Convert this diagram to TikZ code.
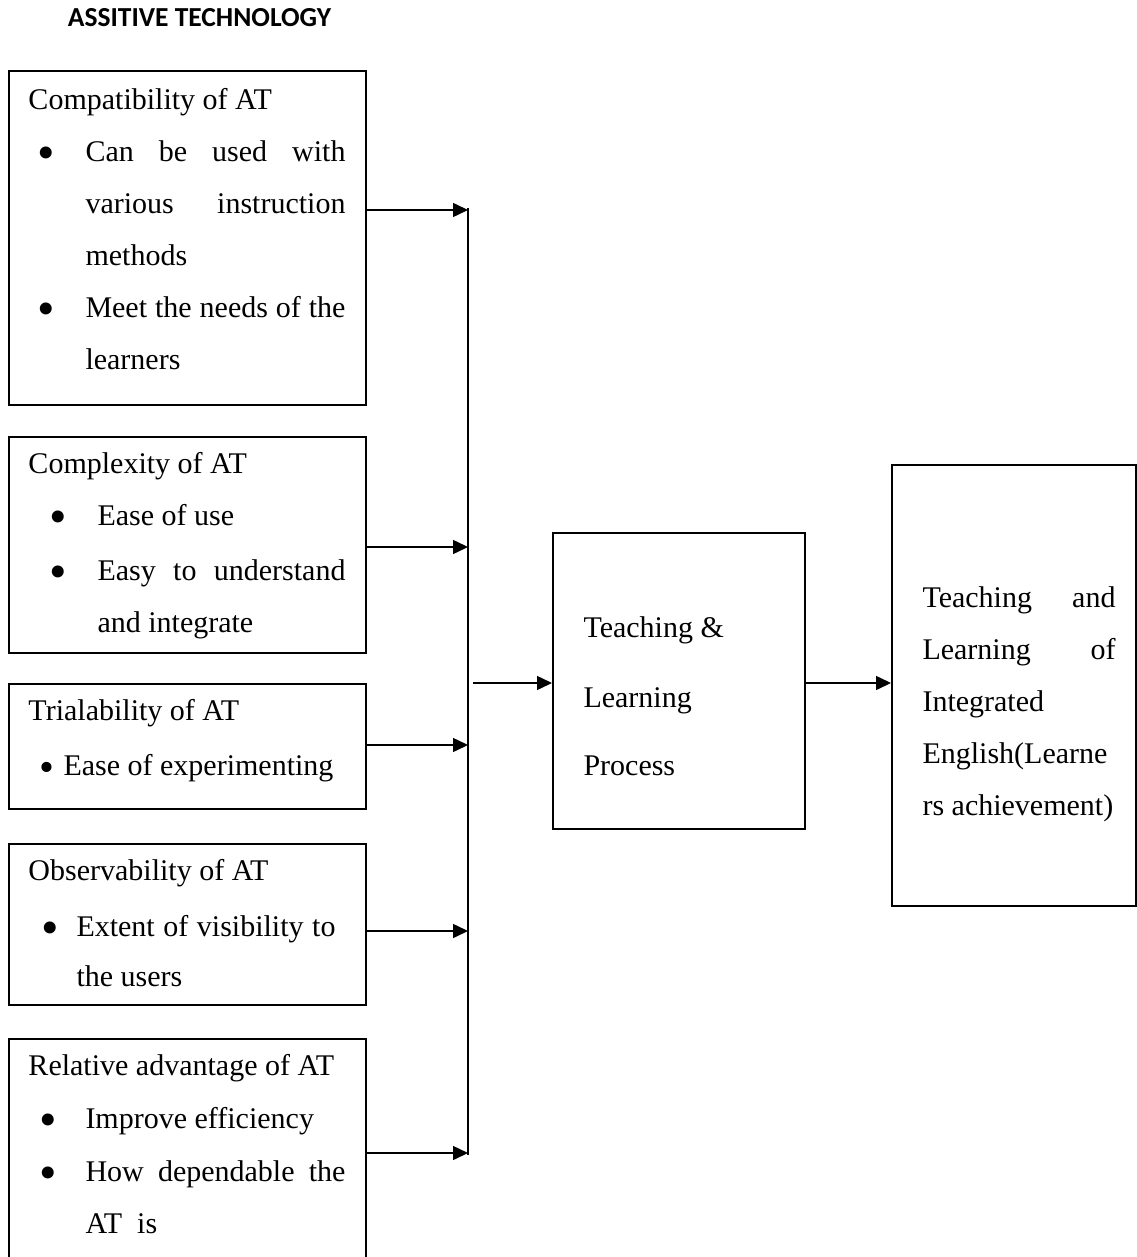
\documentclass[tikz,border=0pt]{standalone}
\usepackage{fontspec}
\setmainfont{Liberation Serif}
\newfontfamily\headfont{Carlito}
\usetikzlibrary{positioning,arrows.meta}

% one justified line of a box text
\newcommand{\jline}[2]{\makebox[#1][s]{#2}}

\begin{document}
\begin{tikzpicture}[
    x=0.4pt, y=-0.4pt,
    box/.style={draw, line width=0.8pt, anchor=north west, inner sep=0pt},
    arr/.style={-{Triangle[length=6pt, width=5.6pt]}, line width=0.6pt},
    lbl/.style={anchor=base west, inner sep=0pt, font=\fontsize{12}{14}\selectfont},
    dot/.style={anchor=base, inner sep=0pt, yshift=-3.2pt, font=\fontsize{20}{20}\selectfont},
  ]
    \useasboundingbox (0,0) rectangle (1137,1257);

    % ===== TITLE =====
    \node[anchor=base, inner sep=0pt, font=\headfont\bfseries\fontsize{11}{13}\selectfont]
      (title) at (199.5,27) {ASSITIVE TECHNOLOGY};

    % ===== BOX 1: compatibility =====
    \node[box, minimum width=142.8pt, minimum height=133.6pt] (compat) at (8,70) {};
    \node[lbl] (compat-h) at (28,110) {Compatibility of AT};
    \node[dot] (compat-d1) at (46,162) {•};
    \node[lbl] (compat-l1) at (85,162) {\jline{104pt}{Can be used with}};
    \node[lbl] (compat-l2) at (85,214) {\jline{104pt}{various instruction}};
    \node[lbl] (compat-l3) at (85,266) {methods};
    \node[dot] (compat-d2) at (46,318) {•};
    \node[lbl] (compat-l4) at (85,318) {\jline{104pt}{Meet the needs of the}};
    \node[lbl] (compat-l5) at (85,370) {learners};

    % ===== BOX 2: complexity =====
    \node[box, minimum width=142.8pt, minimum height=86.4pt] (complex) at (8,436) {};
    \node[lbl] (complex-h) at (28,473) {Complexity of AT};
    \node[dot] (complex-d1) at (58,525) {•};
    \node[lbl] (complex-l1) at (97,525) {Ease of use};
    \node[dot] (complex-d2) at (58,580) {•};
    \node[lbl] (complex-l2) at (97,580) {\jline{99.2pt}{Easy to understand}};
    \node[lbl] (complex-l3) at (97,632) {and integrate};

    % ===== BOX 3: trialability =====
    \node[box, minimum width=142.8pt, minimum height=50pt] (trial) at (8,683) {};
    \node[lbl] (trial-h) at (28,720) {Trialability of AT};
    \node[dot, font=\fontsize{17}{17}\selectfont, yshift=0.6pt] (trial-d1) at (47,775) {•};
    \node[lbl] (trial-l1) at (63,775) {Ease of experimenting};

    % ===== BOX 4: observability =====
    \node[box, minimum width=142.8pt, minimum height=64.4pt] (observ) at (8,843) {};
    \node[lbl] (observ-h) at (28,880) {Observability of AT};
    \node[dot] (observ-d1) at (50,936) {•};
    \node[lbl] (observ-l1) at (76,936) {\jline{103.6pt}{Extent of visibility to}};
    \node[lbl] (observ-l2) at (76,986) {the users};

    % ===== BOX 5: relative advantage (runs off the page) =====
    \node[box, minimum width=142.8pt, minimum height=96pt] (relat) at (8,1038) {};
    \node[lbl] (relat-h) at (28,1075) {Relative advantage of AT};
    \node[dot] (relat-d1) at (48,1128) {•};
    \node[lbl] (relat-l1) at (85,1128) {Improve efficiency};
    \node[dot] (relat-d2) at (48,1181) {•};
    \node[lbl] (relat-l2) at (85,1181) {\jline{104pt}{How dependable the}};
    \node[lbl] (relat-l3) at (85,1233) {AT\ \ is};

    % ===== PROCESS =====
    \node[box, minimum width=100.8pt, minimum height=118.4pt] (tlp) at (552,532) {};
    \node[lbl] (tlp-l1) at (583,637) {Teaching \&};
    \node[lbl] (tlp-l2) at (583,707) {Learning};
    \node[lbl] (tlp-l3) at (583,775) {Process};

    % ===== OUTCOME =====
    \node[box, minimum width=97.6pt, minimum height=176.4pt] (tle) at (891,464) {};
    \node[lbl] (tle-l1) at (922,607) {\jline{77.2pt}{Teaching and}};
    \node[lbl] (tle-l2) at (922,659) {\jline{77.2pt}{Learning of}};
    \node[lbl] (tle-l3) at (922,711) {Integrated};
    \node[lbl] (tle-l4) at (922,763) {English(Learne};
    \node[lbl] (tle-l5) at (922,815) {rs achievement)};

    % ===== CONNECTORS =====
    \coordinate (bustop) at (468,208);
    \coordinate (busbot) at (468,1155);
    \draw[line width=0.6pt] (bustop) -- (busbot);

    \foreach \b/\y in {compat/210, complex/547, trial/745, observ/931, relat/1153}{
      \coordinate (in-\b) at (468,\y);
      \draw[arr] (\b.east |- in-\b) -- (in-\b);
    }

    \coordinate (busout) at (473,683);
    \draw[arr] (busout) -- (tlp.west |- busout);
    \draw[arr] (tlp.east |- busout) -- (tle.west |- busout);

\end{tikzpicture}
\end{document}
